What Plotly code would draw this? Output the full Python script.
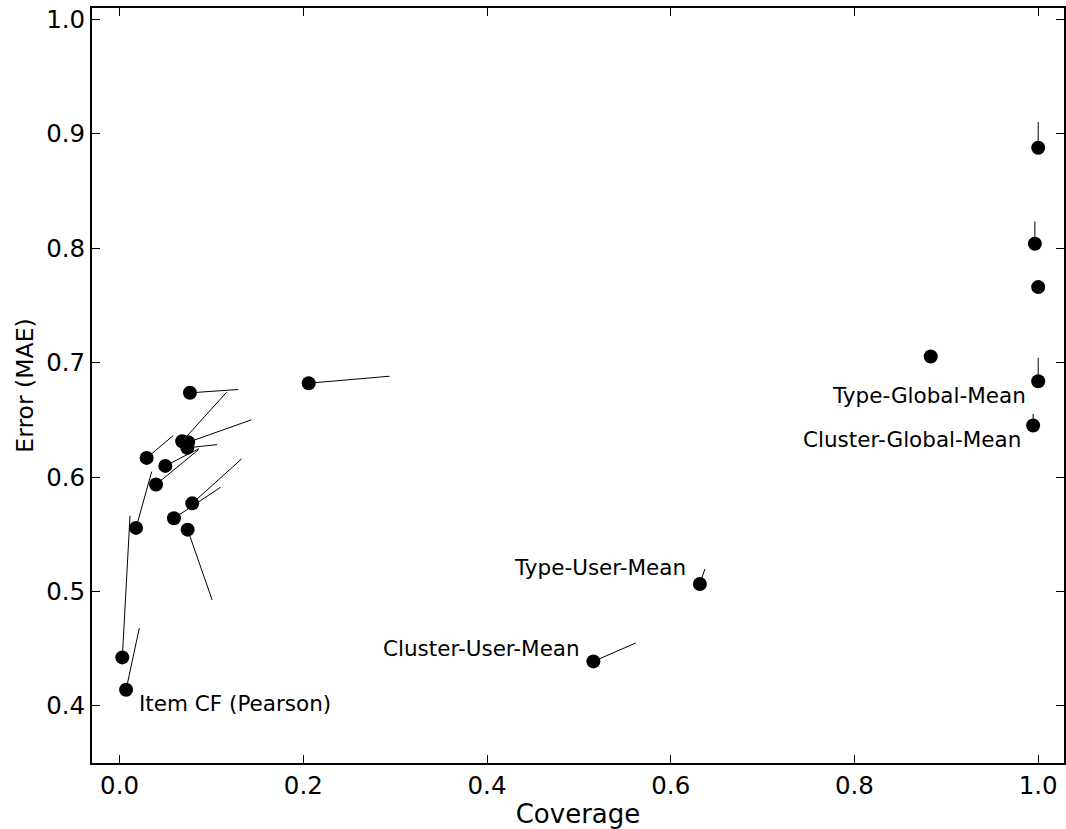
import plotly.graph_objects as go

# Data
coverage = [0.0030, 0.0071, 0.0179, 0.0295, 0.0397, 0.0498, 0.0592, 0.0682, 0.0747,
            0.0737, 0.0741, 0.0766, 0.0791, 0.2059, 0.5158, 0.6317, 0.8830, 1.0000,
            0.9964, 1.0000, 1.0000, 0.9945]
mae = [0.4423, 0.4140, 0.5555, 0.6167, 0.5934, 0.6097, 0.5639, 0.6312, 0.6304,
       0.6255, 0.5540, 0.6736, 0.5770, 0.6820, 0.4388, 0.5065, 0.7053, 0.8879,
       0.8039, 0.7660, 0.6837, 0.6450]
end_coverage = [0.0114, 0.0215, 0.0350, 0.0584, 0.0856, 0.0864, 0.1099, 0.1165, 0.1436,
                0.1062, 0.1008, 0.1291, 0.1328, 0.2939, 0.5619, 0.6372, 0.8830, 1.0000,
                0.9964, 1.0000, 1.0000, 0.9945]
end_mae = [0.5662, 0.4680, 0.6047, 0.6362, 0.6237, 0.6248, 0.5910, 0.6741, 0.6500,
           0.6283, 0.4925, 0.6765, 0.6158, 0.6881, 0.4549, 0.5196, 0.7053, 0.9103,
           0.8234, 0.7660, 0.7042, 0.6552]

label_names = ["Item CF (Pearson)", "Cluster-User-Mean", "Type-User-Mean",
               "Type-Global-Mean", "Cluster-Global-Mean"]
label_index = [1, 14, 15, 20, 21]

x_ticks = [0.0, 0.2, 0.4, 0.6, 0.8, 1.0]
y_ticks = [0.4, 0.5, 0.6, 0.7, 0.8, 0.9, 1.0]

FONT = "DejaVu Sans"

# connecting segments
lx, ly = [], []
for x0, y0, x1, y1 in zip(coverage, mae, end_coverage, end_mae):
    lx += [x0, x1, None]
    ly += [y0, y1, None]

fig = go.Figure()
fig.add_trace(go.Scatter(x=lx, y=ly, mode="lines",
                         line=dict(color="black", width=1), hoverinfo="skip",
                         showlegend=False))
fig.add_trace(go.Scatter(x=coverage, y=mae, mode="markers",
                         marker=dict(color="black", size=14, line=dict(width=0)),
                         showlegend=False))

# label placement (pixel offsets from point)
offsets = {
    "Item CF (Pearson)": (12, -14, "left"),
    "Cluster-User-Mean": (-12, 13, "right"),
    "Type-User-Mean": (-13, 16, "right"),
    "Type-Global-Mean": (-11, -14, "right"),
    "Cluster-Global-Mean": (-11, -14, "right"),
}
for name, idx in zip(label_names, label_index):
    dx, dy, anchor = offsets[name]
    fig.add_annotation(x=coverage[idx], y=mae[idx], xref="x", yref="y",
                       text=name, showarrow=False, xanchor=anchor, yanchor="middle",
                       xshift=dx, yshift=dy, borderpad=0,
                       font=dict(family=FONT, size=21.5, color="black"))

axis_common = dict(
    showgrid=False, zeroline=False, showline=True, linecolor="black", linewidth=2,
    mirror="ticks", ticks="inside", ticklen=8, tickwidth=1, tickcolor="black",
    tickfont=dict(family=FONT, size=24.5, color="black"),
)

fig.update_xaxes(range=[-0.03, 1.0281], tickvals=x_ticks, tickformat=".1f",
                 title=dict(text="Coverage", font=dict(family=FONT, size=26, color="black"),
                            standoff=5),
                 **axis_common)
fig.update_yaxes(range=[0.35, 1.01], tickvals=y_ticks, tickformat=".1f",
                 title=dict(text="Error (MAE)", font=dict(family=FONT, size=23.5, color="black"),
                            standoff=6),
                 **axis_common)

fig.update_layout(
    width=1066, height=829,
    margin=dict(l=92, r=0, t=8, b=66),
    plot_bgcolor="white", paper_bgcolor="white",
    font=dict(family=FONT, color="black"),
)

fig.write_html("out.html")
